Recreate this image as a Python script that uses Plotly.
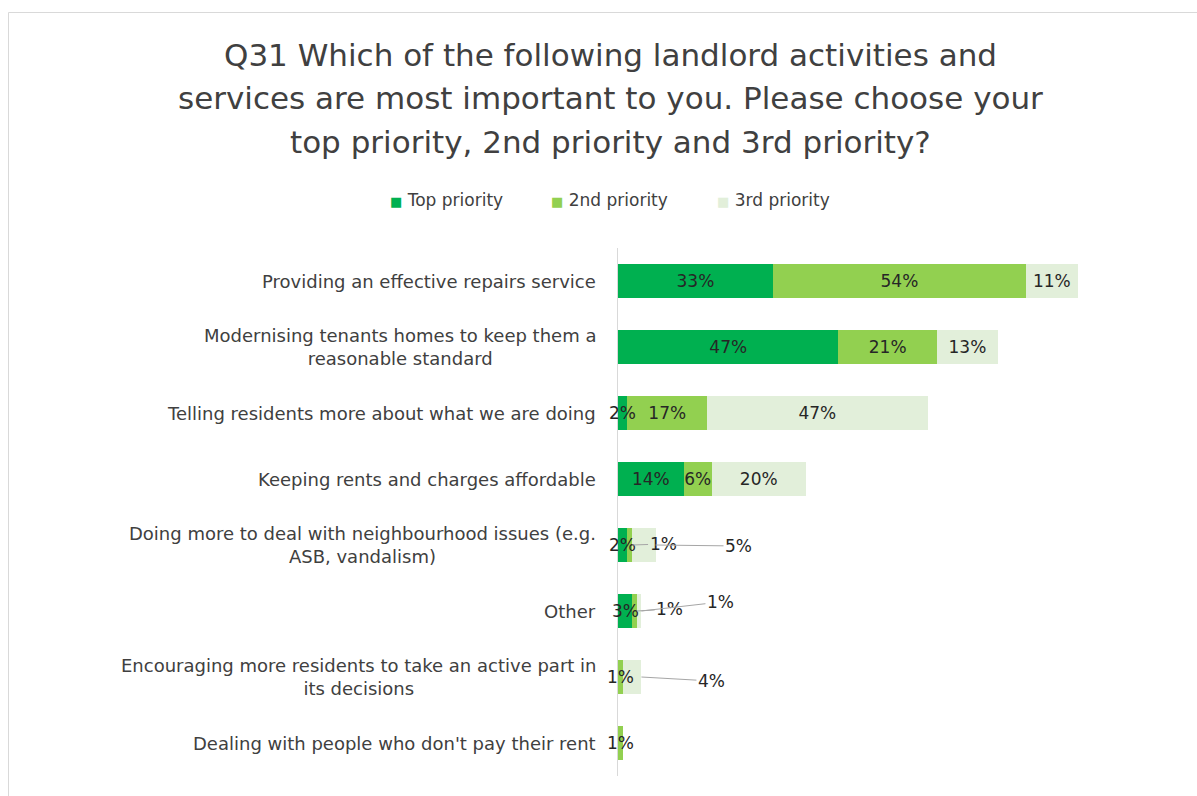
import plotly.graph_objects as go

# Survey results (percent of respondents)
categories = [
    "Providing an effective repairs service",
    "Modernising tenants homes to keep them a<br>reasonable standard",
    "Telling residents more about what we are doing",
    "Keeping rents and charges affordable",
    "Doing more to deal with neighbourhood issues (e.g.<br>ASB, vandalism)",
    "Other",
    "Encouraging more residents to take an active part in<br>its decisions",
    "Dealing with people who don't pay their rent",
]
top_priority = [33, 47, 2, 14, 2, 3, 0, 0]
second_priority = [54, 21, 17, 6, 1, 1, 1, 1]
third_priority = [11, 13, 47, 20, 5, 1, 4, 0]

series_names = ["Top priority", "2nd priority", "3rd priority"]
series_values = [top_priority, second_priority, third_priority]
series_colors = ["#00B050", "#92D050", "#E2EFDA"]

# Labels placed beside the bar with a leader line: (row, series, dx px, dy px)
callouts = [
    (4, 1, 31, -1),
    (4, 2, 83, 1),
    (5, 1, 33, -2),
    (5, 2, 79, -9),
    (6, 2, 70, 4),
]
# segments narrower than this get their label drawn on top of the bars
NARROW = 4

W, H = 1197, 796
ML, MR, MT, MB = 618, 47, 248, 20
PW, PH = W - ML - MR, H - MT - MB
PX_PER_PCT = 4.69
XMAX = PW / PX_PER_PCT

FONT = "DejaVu Sans"
TEXT = "#404040"
LABEL = "#262626"
LABEL_SIZE = 17

callout_keys = {(r, s) for r, s, _, _ in callouts}

fig = go.Figure()
annotations = []
for s, (name, vals, col) in enumerate(zip(series_names, series_values, series_colors)):
    texts = []
    for r, v in enumerate(vals):
        if v >= NARROW and (r, s) not in callout_keys:
            texts.append(f"{v}%")
        else:
            texts.append("")
            if v > 0 and (r, s) not in callout_keys:
                start = sum(series_values[k][r] for k in range(s))
                annotations.append(dict(
                    x=start + v / 2, y=categories[r], xref="x", yref="y",
                    text=f"{v}%", showarrow=False,
                    xanchor="center", yanchor="middle",
                    font=dict(family=FONT, size=LABEL_SIZE, color=LABEL),
                ))
    fig.add_trace(go.Bar(
        name=name, y=categories, x=vals, orientation="h",
        marker=dict(color=col, line=dict(width=0)),
        text=texts, textposition="inside", insidetextanchor="middle",
        textangle=0, constraintext="none", cliponaxis=False,
        textfont=dict(family=FONT, size=LABEL_SIZE, color=LABEL),
        hoverinfo="skip", showlegend=False,
    ))

# category labels, centred lines, right edge near the axis
for c in categories:
    annotations.append(dict(
        x=0, y=c, xref="x", yref="y", text=c, showarrow=False,
        xanchor="right", yanchor="middle", align="center", xshift=-20,
        font=dict(family=FONT, size=18, color=TEXT),
    ))

# leader-line labels
for r, s, dx, dy in callouts:
    end = sum(series_values[k][r] for k in range(s + 1))
    annotations.append(dict(
        x=end, y=categories[r], xref="x", yref="y",
        text=f"{series_values[s][r]}%", showarrow=True,
        arrowhead=0, arrowwidth=1, arrowcolor="#A6A6A6",
        ax=dx, ay=dy, standoff=0, startstandoff=0,
        font=dict(family=FONT, size=LABEL_SIZE, color=LABEL),
    ))


def px_x(px):
    return (px - ML) / PW


def px_y(py):
    return (MT + PH - py) / PH


title_lines = [
    "Q31 Which of the following landlord activities and",
    "services are most important to you. Please choose your",
    "top priority, 2nd priority and 3rd priority?",
]
for line, cy in zip(title_lines, [55, 98, 142]):
    annotations.append(dict(
        x=px_x(610), y=px_y(cy), xref="paper", yref="paper",
        text=line, showarrow=False, xanchor="center", yanchor="middle",
        font=dict(family=FONT, size=31, color=TEXT),
    ))

# legend: small coloured square followed by the series name
for name, col, left in zip(series_names, series_colors, [388, 549, 715]):
    annotations.append(dict(
        x=px_x(left), y=px_y(200), xref="paper", yref="paper",
        text=f"<span style='color:{col};font-size:13px'>■</span> {name}",
        showarrow=False, xanchor="left", yanchor="middle",
        font=dict(family=FONT, size=17, color=TEXT),
    ))

fig.update_layout(
    width=W, height=H,
    margin=dict(l=ML, r=MR, t=MT, b=MB),
    paper_bgcolor="white", plot_bgcolor="white",
    barmode="stack", bargap=0.485,
    showlegend=False,
    xaxis=dict(range=[0, XMAX], visible=False, fixedrange=True),
    yaxis=dict(
        categoryorder="array", categoryarray=categories,
        autorange="reversed", showticklabels=False, ticks="",
        showline=True, linecolor="#D9D9D9", linewidth=1,
        showgrid=False, zeroline=False, fixedrange=True,
    ),
    annotations=annotations,
    shapes=[dict(
        type="rect", xref="paper", yref="paper",
        x0=px_x(8.5), x1=px_x(W + 10), y0=px_y(H + 10), y1=px_y(12.5),
        line=dict(color="#D9D9D9", width=1), fillcolor="rgba(0,0,0,0)",
        layer="below",
    )],
    uniformtext=dict(mode=False),
)

fig.write_html("out.html")
